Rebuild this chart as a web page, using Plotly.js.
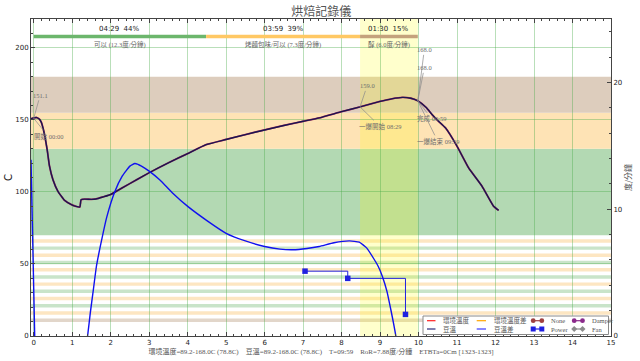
<!DOCTYPE html>
<html><head><meta charset="utf-8">
<script src="https://cdn.plot.ly/plotly-3.0.1.min.js"></script>
<style>html,body{margin:0;padding:0;background:#fff}#chart{width:640px;height:361px}</style>
</head><body><div id="chart"></div>
<script>
// ---- data ----
const btTime = [-0.1, 0, 0.08, 0.15, 0.2, 0.25, 0.29, 0.35, 0.41, 0.5, 0.63, 0.8, 0.98, 1.1, 1.2, 1.23, 1.32, 1.5, 1.62, 1.8, 2.0, 2.3, 2.68, 3.0, 3.5, 4.0, 4.48, 5.0, 5.5, 6.0, 6.5, 7.0, 7.42, 8.0, 8.48, 9.0, 9.3, 9.58, 9.8, 9.98, 10.2, 10.35, 10.5, 10.7, 11.0, 11.3, 11.65, 11.95, 12.08];
const btTemp = [150.6, 151.4, 151.6, 150.5, 148.2, 143.5, 138.6, 129.4, 118.0, 108.5, 100.4, 94.2, 91.2, 90.0, 89.5, 94.5, 95.0, 94.8, 95.1, 96.5, 98.2, 102.8, 108.5, 113.3, 120.2, 126.6, 132.8, 136.4, 139.8, 143.0, 146.1, 149.0, 151.4, 155.7, 159.0, 162.8, 164.6, 165.6, 165.0, 163.2, 158.5, 153.7, 149.5, 144.4, 131.7, 116.7, 103.9, 90.0, 87.2];
const etTime = btTime;
const etTemp = btTemp;
const rorTime = [-0.07, 0.03, null, 1.37, 1.40, 1.47, 1.55, 1.63, 1.73, 1.9, 2.11, 2.3, 2.5, 2.63, 2.8, 3.0, 3.28, 3.6, 4.01, 4.5, 5.0, 5.5, 6.0, 6.4, 6.73, 7.1, 7.42, 7.8, 8.2, 8.46, 8.65, 8.8, 8.95, 9.06, 9.18, 9.28, 9.35, 9.41, 9.45];
const rorValue = [13.9, -0.5, null, -0.5, 0, 1.8, 3.65, 5.5, 7.06, 9.4, 11.4, 12.6, 13.4, 13.6, 13.4, 13.0, 12.3, 11.3, 10.2, 9.1, 8.1, 7.5, 7.06, 6.85, 6.8, 6.9, 7.06, 7.35, 7.5, 7.4, 6.95, 6.27, 5.5, 4.7, 3.5, 2.07, 1.0, 0, -0.8];
const powerTime = [7.05, 8.16, 9.66];
const powerValue = [45, 40, 15];
const phaseStart = [0, 4.48, 8.48];
const phaseEnd = [4.48, 8.48, 9.98];
const phaseTimeText = ['04:29\u00a0\u00a044%', '03:59\u00a0\u00a039%', '01:30\u00a0\u00a015%'];
const phaseNameText = ['可以 (12.3度/分鐘)', '烤麵包味/可以 (7.3度/分鐘)', '醇 (6.0度/分鐘)'];
const bandLow = [70, 130, 155];
const bandHigh = [130, 155, 180];
const stripeOrange = [66, 56, 46, 36, 26, 16];
const stripeGreen = [61, 51, 41, 31, 21];
const stripeBrown = [11];
const fcStartTime = 8.48;
const dropTime = 9.98;
const eventTime = [0, 0, 8.48, 8.48, 9.98, 9.98, 9.98, 9.98];
const eventTemp = [151.1, 151.1, 159.0, 159.0, 163.2, 163.2, 163.2, 163.2];
const eventLabel = ['151.1', '開始 00:00', '159.0', '一爆開始 08:29', '168.0', '168.0', '完成 09:59', '一爆結束 09:59'];
const statsText = '環境溫度=89.2-168.0C (78.8C)\u00a0\u00a0\u00a0\u00a0豆溫=89.2-168.0C (78.8C)\u00a0\u00a0\u00a0\u00a0T=09:59\u00a0\u00a0\u00a0\u00a0RoR=7.88度/分鐘\u00a0\u00a0\u00a0\u00a0ETBTa=0Cm [1323-1323]';
const legendNames = ['環境溫度', '環境溫度差', 'None', 'Damper', '豆溫', '豆溫差', 'Power', 'Fan'];

// ---- styles ----
const serif = 'Liberation Serif, Noto Sans CJK TC, serif';
const sans = 'DejaVu Sans, Noto Sans CJK TC, sans-serif';
const gridCol = 'rgba(70,170,70,0.38)';
const axCol = '#444';
const bandColor = ['#b3d9b3', '#fee3b5', '#ddcdbd'];
const phaseColor = ['#6cb66c', '#ffc864', '#c4a27c'];
const eventAx = [6.5, 14.5, 7, 20, 6.5, 6.5, 14, 20];
const eventAy = [-23, 18, -21, 19.5, -51, -33, 18, 40.5];
const legendStyle = [
  {c:'#ff2020', kind:'line'}, {c:'#ffa500', kind:'line'}, {c:'#a04040', kind:'circle'}, {c:'#8b2a8b', kind:'circle'},
  {c:'#2c2c7c', kind:'line'}, {c:'#3a3aff', kind:'line'}, {c:'#2020e0', kind:'square'}, {c:'#8c8c8c', kind:'diamond'}
];
const legendColX = [-184, -134.3, -79.3, -38.3];
const legendColW = [8.5, 9.3, 11.6, 11.3];
const legendRowY = [15.3, 7];

const shapes = [];
bandLow.forEach((lo, i) => shapes.push({type:'rect', xref:'paper', x0:0, x1:1, yref:'y', y0:lo, y1:bandHigh[i], fillcolor:bandColor[i], line:{width:0}, layer:'below'}));
stripeOrange.forEach(c => shapes.push({type:'rect', xref:'paper', x0:0, x1:1, yref:'y', y0:c-1.2, y1:c+1.2, fillcolor:'#fde6c2', line:{width:0}, layer:'below'}));
stripeGreen.forEach(c => shapes.push({type:'rect', xref:'paper', x0:0, x1:1, yref:'y', y0:c-1.2, y1:c+1.2, fillcolor:'#c9e4c9', line:{width:0}, layer:'below'}));
stripeBrown.forEach(c => shapes.push({type:'rect', xref:'paper', x0:0, x1:1, yref:'y', y0:c-1.2, y1:c+1.2, fillcolor:'#e2d6ca', line:{width:0}, layer:'below'}));
shapes.push({type:'rect', xref:'x', x0:fcStartTime, x1:dropTime, yref:'paper', y0:0, y1:1, fillcolor:'rgba(255,255,0,0.2)', line:{width:0}, layer:'below'});
phaseStart.forEach((s, i) => shapes.push({type:'line', xref:'x', x0:s, x1:phaseEnd[i], yref:'y', y0:207.8, y1:207.8, line:{color:phaseColor[i], width:3.5}, layer:'between'}));

// legend box (compact legend)
shapes.push({type:'rect', xref:'paper', yref:'paper', xsizemode:'pixel', ysizemode:'pixel', xanchor:1, yanchor:0, x0:-188, x1:-2.5, y0:1.5, y1:20, fillcolor:'#fff', line:{color:'#8a8a8a', width:1}, layer:'above'});

const annotations = [];
legendNames.forEach((name, k) => {
  const col = k % 4, row = Math.floor(k / 4);
  const st = legendStyle[k];
  const x0 = legendColX[col], x1 = x0 + legendColW[col], yy = legendRowY[row];
  shapes.push({type:'line', xref:'paper', yref:'paper', xsizemode:'pixel', ysizemode:'pixel', xanchor:1, yanchor:0, x0:x0, x1:x1, y0:yy, y1:yy, line:{color:st.c, width:1.2}, layer:'above'});
  if (st.kind !== 'line') {
    [x0 + 1.5, x1 - 1.5].forEach(mx => {
      if (st.kind === 'circle') shapes.push({type:'circle', xref:'paper', yref:'paper', xsizemode:'pixel', ysizemode:'pixel', xanchor:1, yanchor:0, x0:mx-2.4, x1:mx+2.4, y0:yy-2.4, y1:yy+2.4, fillcolor:st.c, line:{color:st.c, width:0}, layer:'above'});
      else if (st.kind === 'square') shapes.push({type:'rect', xref:'paper', yref:'paper', xsizemode:'pixel', ysizemode:'pixel', xanchor:1, yanchor:0, x0:mx-2.5, x1:mx+2.5, y0:yy-2.5, y1:yy+2.5, fillcolor:st.c, line:{color:st.c, width:0}, layer:'above'});
      else shapes.push({type:'path', xref:'paper', yref:'paper', xsizemode:'pixel', ysizemode:'pixel', xanchor:1, yanchor:0, path:`M${mx-3},${yy} L${mx},${yy+3} L${mx+3},${yy} L${mx},${yy-3} Z`, fillcolor:st.c, line:{color:st.c, width:0}, layer:'above'});
    });
  }
  annotations.push({xref:'paper', yref:'paper', x:1, y:0, xshift:x1 + 5.5, yshift:yy, xanchor:'left', yanchor:'middle', showarrow:false, text:name, font:{family:serif, size:6.5, color:'#555'}});
});

phaseStart.forEach((s, i) => {
  const mid = (s + phaseEnd[i]) / 2;
  annotations.push({x:mid, y:212.8, xref:'x', yref:'y', text:phaseTimeText[i], showarrow:false, font:{family:sans, size:7, color:'#222'}});
  annotations.push({x:mid, y:202.6, xref:'x', yref:'y', text:phaseNameText[i], showarrow:false, font:{family:serif, size:6.5, color:'#666'}});
});
eventTime.forEach((t, i) => {
  annotations.push({x:t, y:eventTemp[i], xref:'x', yref:'y', text:eventLabel[i], showarrow:true, arrowhead:0, arrowwidth:0.7, arrowcolor:'#8a8a8a', ax:eventAx[i], ay:eventAy[i], standoff:0, font:{family:serif, size:6.5, color:'#6e6e6e'}});
});

const traces = [
  {x:etTime, y:etTemp, type:'scatter', mode:'lines', name:legendNames[0], line:{color:'#b03060', width:1.8, shape:'spline', smoothing:0.4}, showlegend:false, hoverinfo:'skip'},
  {x:btTime, y:btTemp, type:'scatter', mode:'lines', name:legendNames[4], line:{color:'#1a1650', width:1.4, shape:'spline', smoothing:0.4}, showlegend:false},
  {x:rorTime, y:rorValue, type:'scatter', mode:'lines', name:legendNames[5], yaxis:'y2', line:{color:'#1010f0', width:1.4, shape:'spline', smoothing:0.4}, connectgaps:false, showlegend:false},
  {x:powerTime, y:powerValue, type:'scatter', mode:'lines+markers', name:legendNames[6], line:{color:'#2020e0', width:1, shape:'hv'}, marker:{symbol:'square', size:5.5, color:'#2020e0'}, showlegend:false}
];

const tickFont = {family:sans, size:7, color:'#222'};
const layout = {
  width:640, height:361,
  margin:{l:31, r:29, t:19, b:25},
  paper_bgcolor:'#fff', plot_bgcolor:'#fff',
  showlegend:false,
  title:{text:'烘焙記錄儀', font:{family:'Noto Sans CJK TC, sans-serif', size:12, color:'#555'}, x:0.502, xref:'container', xanchor:'center', y:0.966, yref:'container', yanchor:'middle'},
  xaxis:{range:[-0.07, 15], tick0:0, dtick:1, ticks:'inside', ticklen:4, tickwidth:1, tickcolor:axCol, showline:true, linecolor:axCol, linewidth:1, mirror:'ticks',
    showgrid:true, gridcolor:gridCol, gridwidth:1, zeroline:false, tickfont:tickFont, automargin:false,
    minor:{dtick:0.2, tick0:0, ticks:'inside', ticklen:2, tickcolor:axCol, showgrid:false},
    title:{text:statsText, font:{family:serif, size:7, color:'#555'}, standoff:0}},
  yaxis:{range:[0, 220], tick0:0, dtick:50, ticks:'inside', ticklen:4, tickcolor:axCol, showline:true, linecolor:axCol, linewidth:1, mirror:false,
    showgrid:true, gridcolor:gridCol, gridwidth:1, zeroline:false, tickfont:tickFont, automargin:false,
    minor:{dtick:10, ticks:'inside', ticklen:2, tickcolor:axCol, showgrid:false},
    title:{text:'C', font:{family:sans, size:10, color:'#222'}, standoff:0}},
  yaxis2:{overlaying:'y', side:'right', anchor:'x', range:[0, 25], tick0:0, dtick:10, ticks:'inside', ticklen:4, tickcolor:axCol, showline:true, linecolor:axCol, linewidth:1,
    showgrid:false, zeroline:false, tickfont:tickFont, automargin:false,
    minor:{dtick:2, ticks:'inside', ticklen:2, tickcolor:axCol, showgrid:false},
    title:{text:'度/分鐘', font:{family:'Noto Sans CJK TC, sans-serif', size:8, color:'#555'}, standoff:4}},
  shapes:shapes,
  annotations:annotations
};
Plotly.newPlot('chart', traces, layout, {displayModeBar:false, staticPlot:true});
</script></body></html>
